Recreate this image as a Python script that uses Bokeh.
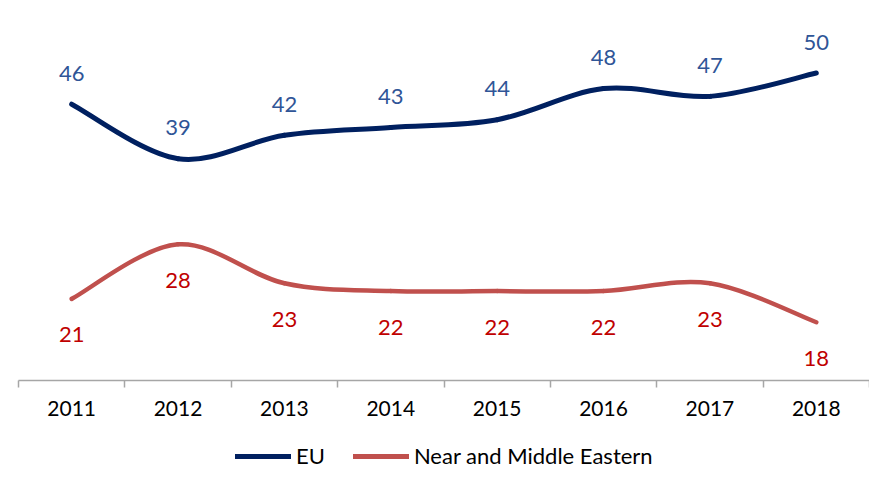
from bokeh.plotting import figure
from bokeh.layouts import column
from bokeh.models import ColumnDataSource, FixedTicker, Legend, LegendItem, Range1d
from bokeh.core.properties import value
from bokeh.embed import file_html
from bokeh.resources import INLINE

years = ["2011", "2012", "2013", "2014", "2015", "2016", "2017", "2018"]
eu = [46, 39, 42, 43, 44, 48, 47, 50]
near = [21, 28, 23, 22, 22, 22, 23, 18]
series_names = ["EU", "Near and Middle Eastern"]

FONT = "Lato"
EU_LINE = "#002060"
EU_TEXT = "#2F5597"
NE_LINE = "#C0504D"
NE_TEXT = "#C00000"

p = figure(width=869, height=435, output_backend="svg", toolbar_location=None,
           x_range=Range1d(-0.5, 7.5), y_range=Range1d(10.52, 59.31),
           y_axis_location=None, min_border_left=18, min_border_right=0,
           min_border_top=0, min_border_bottom=55)
p.outline_line_color = None
p.xgrid.visible = False
p.ygrid.visible = False


def smooth_segments(vals):
    n = len(vals)
    xs = list(range(n))
    x0, y0, x1, y1, cx0, cy0, cx1, cy1 = [], [], [], [], [], [], [], []
    for i in range(n - 1):
        im1 = max(i - 1, 0)
        ip2 = min(i + 2, n - 1)
        x0.append(xs[i]); y0.append(vals[i])
        x1.append(xs[i + 1]); y1.append(vals[i + 1])
        cx0.append(xs[i] + (xs[i + 1] - xs[im1]) / 6)
        cy0.append(vals[i] + (vals[i + 1] - vals[im1]) / 6)
        cx1.append(xs[i + 1] - (xs[ip2] - xs[i]) / 6)
        cy1.append(vals[i + 1] - (vals[ip2] - vals[i]) / 6)
    return ColumnDataSource(dict(x0=x0, y0=y0, x1=x1, y1=y1,
                                 cx0=cx0, cy0=cy0, cx1=cx1, cy1=cy1))


for vals, col, lw in [(eu, EU_LINE, 5), (near, NE_LINE, 4.5)]:
    src = smooth_segments(vals)
    p.bezier(x0="x0", y0="y0", x1="x1", y1="y1", cx0="cx0", cy0="cy0",
             cx1="cx1", cy1="cy1", source=src, line_color=col,
             line_width=lw, line_cap="round")

xs = list(range(len(years)))
p.text(x=xs, y=eu, text=[str(v) for v in eu], y_offset=-31,
       text_align="center", text_baseline="middle", text_color=EU_TEXT,
       text_font=value(FONT), text_font_size="22px")
p.text(x=xs, y=near, text=[str(v) for v in near], y_offset=36,
       text_align="center", text_baseline="middle", text_color=NE_TEXT,
       text_font=value(FONT), text_font_size="22px")

ax = p.xaxis[0]
ax.ticker = FixedTicker(ticks=xs, minor_ticks=[i - 0.5 for i in range(len(years) + 1)])
ax.major_label_overrides = {i: y for i, y in enumerate(years)}
ax.axis_line_color = "#A6A6A6"
ax.axis_line_width = 1.5
ax.major_tick_out = 0
ax.major_tick_in = 0
ax.minor_tick_out = 7
ax.minor_tick_in = 0
ax.minor_tick_line_color = "#A6A6A6"
ax.minor_tick_line_width = 1.5
ax.major_label_text_font = FONT
ax.major_label_text_font_size = "21px"
ax.major_label_text_color = "#000000"
ax.major_label_standoff = 13

# legend strip (series drawn out of view, used only as legend proxies)
q = figure(width=869, height=34, output_backend="svg", toolbar_location=None,
           x_range=Range1d(-0.5, 7.5), y_range=Range1d(0, 1),
           x_axis_location=None, y_axis_location=None,
           min_border_left=0, min_border_right=0, min_border_top=0, min_border_bottom=0)
q.outline_line_color = None
q.xgrid.visible = False
q.ygrid.visible = False
leg_eu = q.line(x=xs, y=eu, line_color=EU_LINE, line_width=5, line_cap="round")
leg_ne = q.line(x=xs, y=near, line_color=NE_LINE, line_width=5, line_cap="round")

legend = Legend(items=[LegendItem(label=series_names[0], renderers=[leg_eu]),
                       LegendItem(label=series_names[1], renderers=[leg_ne])],
                orientation="horizontal", location=(217, 0),
                glyph_width=56, glyph_height=20, label_standoff=5, spacing=28,
                padding=0, margin=0, border_line_color=None,
                background_fill_alpha=0, label_text_font=FONT,
                label_text_font_size="22px", label_text_color="#000000",
                label_height=20)
q.add_layout(legend, "center")

layout = column(p, q, spacing=0)
open("out.html", "w").write(file_html(layout, INLINE))
